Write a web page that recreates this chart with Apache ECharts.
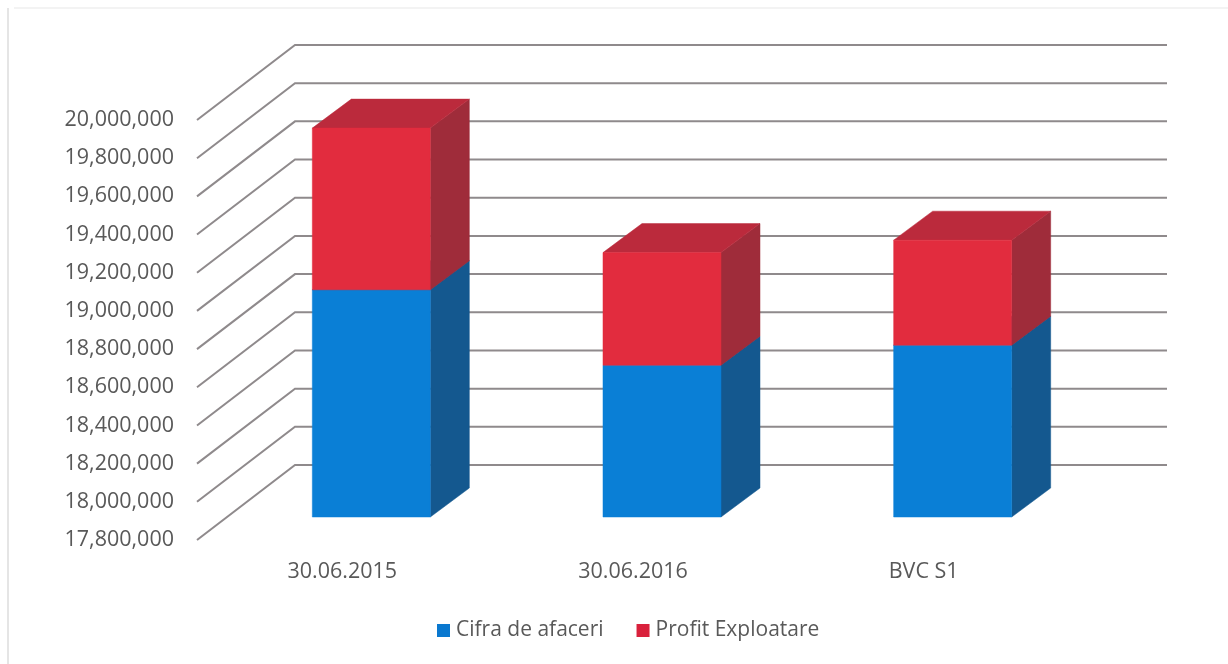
<!DOCTYPE html>
<html>
<head>
<meta charset="utf-8">
<style>html,body{margin:0;padding:0;background:#fff}#c{width:1228px;height:664px}</style>
<script src="https://cdn.jsdelivr.net/npm/echarts@6/dist/echarts.min.js"></script>
</head>
<body>
<div id="c"></div>
<script>
const categories = ['30.06.2015', '30.06.2016', 'BVC S1'];
const cifraAfaceri = [18990000, 18595000, 18700000];
const profitExploatare = [847000, 590000, 550000];
const tickValues = [17800000, 18000000, 18200000, 18400000, 18600000, 18800000, 19000000, 19200000, 19400000, 19600000, 19800000, 20000000];

const WALL_DX = 98, WALL_DY = -75;
const BAR_FRONT_DX = 29, BAR_FRONT_DY = -23, BAR_DX = 39, BAR_DY = -29;

function poly(points, fill) {
  return { type: 'polygon', shape: { points }, style: { fill, stroke: fill, lineWidth: 0.5 } };
}
function makeBox(front, side, top) {
  return function (params, api) {
    const w = api.size([1, 0])[0] * 0.406;
    const a = api.coord([api.value(0), api.value(1)]);
    const b = api.coord([api.value(0), api.value(2)]);
    const l = a[0] + BAR_FRONT_DX - w / 2, r = l + w;
    const y0 = a[1] + BAR_FRONT_DY, y1 = b[1] + BAR_FRONT_DY;
    const kids = [
      poly([[r, y0], [r + BAR_DX, y0 + BAR_DY], [r + BAR_DX, y1 + BAR_DY], [r, y1]], side),
      poly([[l, y1], [r, y1], [r + BAR_DX, y1 + BAR_DY], [l + BAR_DX, y1 + BAR_DY]], top),
      poly([[l, y0], [r, y0], [r, y1], [l, y1]], front)
    ];
    return { type: 'group', children: kids };
  };
}
function renderGrid(params, api) {
  const cs = params.coordSys;
  const y = api.coord([0, api.value(0)])[1];
  const x = cs.x;
  return {
    type: 'polyline',
    shape: { points: [[x, y], [x + WALL_DX, y + WALL_DY], [x + cs.width + WALL_DX, y + WALL_DY]] },
    style: { fill: 'none', stroke: '#8f8a8c', lineWidth: 2 }
  };
}

const chart = echarts.init(document.getElementById('c'), null, { renderer: 'canvas' });
chart.setOption({
  animation: false,
  backgroundColor: '#ffffff',
  textStyle: { fontFamily: '"Open Sans", sans-serif' },
  graphic: [
    { type: 'line', shape: { x1: 8, y1: 8, x2: 8, y2: 664 }, style: { stroke: '#dcdcdc', lineWidth: 1.5 }, silent: true },
    { type: 'line', shape: { x1: 14, y1: 8, x2: 1228, y2: 8 }, style: { stroke: '#efefef', lineWidth: 1.5 }, silent: true }
  ],
  grid: { left: 197, top: 120, width: 872, height: 420 },
  legend: {
    data: ['Cifra de afaceri', 'Profit Exploatare'],
    left: 432, top: 615,
    icon: 'rect', itemWidth: 13, itemHeight: 13, itemGap: 33,
    textStyle: { color: '#595959', fontSize: 21, fontFamily: '"Open Sans", sans-serif', padding: [0, 0, 0, 1] }
  },
  xAxis: {
    type: 'category', data: categories,
    axisLine: { show: false }, axisTick: { show: false },
    axisLabel: { color: '#595959', fontSize: 21.5, margin: 21 }
  },
  yAxis: {
    type: 'value', min: 17800000, max: 20000000, interval: 200000,
    axisLine: { show: false }, axisTick: { show: false }, splitLine: { show: false },
    axisLabel: {
      color: '#595959', fontSize: 21.5, margin: 23, padding: [4, 0, 0, 0],
      formatter: v => v.toLocaleString('en-US')
    }
  },
  series: [
    {
      type: 'custom', name: 'grid', silent: true, clip: false, z: 1,
      data: tickValues.map(v => [v]), encode: { y: 0 },
      renderItem: renderGrid
    },
    {
      type: 'custom', name: 'Cifra de afaceri', clip: false, z: 2,
      itemStyle: { color: '#0a78cf' },
      data: categories.map((c, i) => [i, tickValues[0], cifraAfaceri[i]]),
      encode: { x: 0, y: [1, 2] },
      renderItem: makeBox('#0a7fd6', '#14588f', '#14588f')
    },
    {
      type: 'custom', name: 'Profit Exploatare', clip: false, z: 3,
      itemStyle: { color: '#d9213c' },
      data: categories.map((c, i) => [i, cifraAfaceri[i], cifraAfaceri[i] + profitExploatare[i]]),
      encode: { x: 0, y: [1, 2] },
      renderItem: makeBox('#e22c3e', '#9f2c3a', '#bb2a3c')
    }
  ]
});
</script>
</body>
</html>
